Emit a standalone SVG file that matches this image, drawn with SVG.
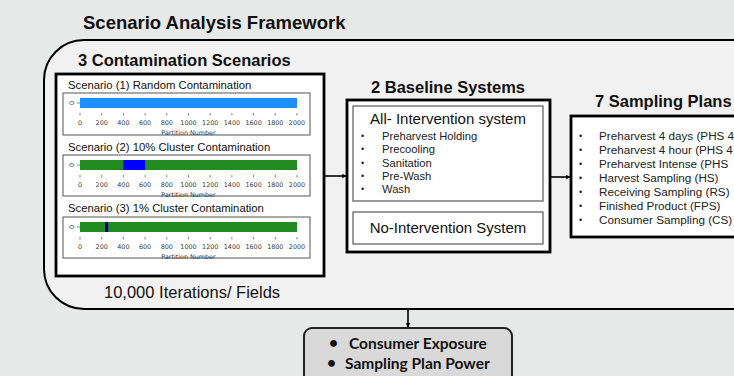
<svg xmlns="http://www.w3.org/2000/svg" width="734" height="376" viewBox="0 0 734 376">
  <defs>
    <marker id="arrow" viewBox="0 0 10 10" refX="9" refY="5" markerWidth="5" markerHeight="5" orient="auto" markerUnits="userSpaceOnUse">
      <path d="M0,0 L10,5 L0,10 Z" fill="#000"/>
    </marker>
    <style>
      .sans { font-family: "Liberation Sans", Arial, sans-serif; fill: #111; }
      .bold { font-weight: bold; }
      .h1 { font-size: 18.5px; }
      .h2 { font-size: 16.5px; }
      .sys { font-size: 15px; }
      .lbl { font-size: 11.3px; }
      .item { font-size: 11.2px; fill: #222; }
      .plan { font-size: 11.7px; fill: #222; }
      .dot { font-size: 9px; }
      .mpl { font-family: "DejaVu Sans", sans-serif; font-size: 6.4px; fill: #3a3a3a; }
      .frame { fill: #fff; stroke: #000; stroke-width: 2.8; }
      .inner { fill: #fff; stroke: #666; stroke-width: 1.3; }
      .plot { fill: #fff; stroke: #555; stroke-width: 1; }
      .tick { stroke: #333; stroke-width: 0.6; }
      .conn { stroke: #000; stroke-width: 1.6; fill: none; marker-end: url(#arrow); }
      .out { font-family: Lato, "Open Sans", sans-serif; font-weight: bold; font-size: 15.5px; fill: #111; }
    </style>
    <!-- shared x axis for the partition plots: 0..2000 over x 80..297 -->
    <g id="axis">
      <line class="tick" x1="77" y1="0" x2="80" y2="0"/>
      <text class="mpl" transform="translate(72,0) rotate(-90)" text-anchor="middle" dy="2">0</text>
      <g class="tick">
        <line x1="80" y1="10" x2="80" y2="12.5"/><line x1="101.7" y1="10" x2="101.7" y2="12.5"/>
        <line x1="123.4" y1="10" x2="123.4" y2="12.5"/><line x1="145.1" y1="10" x2="145.1" y2="12.5"/>
        <line x1="166.8" y1="10" x2="166.8" y2="12.5"/><line x1="188.5" y1="10" x2="188.5" y2="12.5"/>
        <line x1="210.2" y1="10" x2="210.2" y2="12.5"/><line x1="231.9" y1="10" x2="231.9" y2="12.5"/>
        <line x1="253.6" y1="10" x2="253.6" y2="12.5"/><line x1="275.3" y1="10" x2="275.3" y2="12.5"/>
        <line x1="297" y1="10" x2="297" y2="12.5"/>
      </g>
      <g class="mpl" text-anchor="middle">
        <text x="80" y="21.5">0</text><text x="101.7" y="21.5">200</text>
        <text x="123.4" y="21.5">400</text><text x="145.1" y="21.5">600</text>
        <text x="166.8" y="21.5">800</text><text x="188.5" y="21.5">1000</text>
        <text x="210.2" y="21.5">1200</text><text x="231.9" y="21.5">1400</text>
        <text x="253.6" y="21.5">1600</text><text x="275.3" y="21.5">1800</text>
        <text x="297" y="21.5">2000</text>
        <text x="188.5" y="31.5" fill="#3a3a3a">Partition Number</text>
      </g>
    </g>
  </defs>

  <!-- page background -->
  <rect x="0" y="0" width="734" height="376" fill="#e7e9e8"/>

  <text class="sans bold h1" x="83" y="29">Scenario Analysis Framework</text>

  <!-- framework container, running off the right edge -->
  <g id="framework">
    <rect x="44" y="40" width="760" height="269" rx="40" ry="40" fill="#f1f1f1" stroke="#000" stroke-width="2"/>
    <text class="sans" x="104" y="298" font-size="16.5">10,000 Iterations/ Fields</text>
  </g>

  <!-- contamination scenarios -->
  <g id="scenarios">
    <text class="sans bold h2" x="78" y="66">3 Contamination Scenarios</text>
    <rect class="frame" x="56" y="74" width="268" height="202"/>

    <g id="scenario1">
      <text class="sans lbl" x="68" y="89">Scenario (1) Random Contamination</text>
      <rect class="plot" x="63" y="93" width="247" height="42"/>
      <rect x="80" y="98" width="217" height="10" fill="#1e90ff"/>
      <use href="#axis" transform="translate(0,103)"/>
    </g>

    <g id="scenario2">
      <text class="sans lbl" x="68" y="151">Scenario (2) 10% Cluster Contamination</text>
      <rect class="plot" x="63" y="155" width="247" height="41"/>
      <rect x="80" y="160" width="217" height="10" fill="#228b22"/>
      <rect x="123.4" y="160" width="21.7" height="10" fill="#0000ff"/>
      <use href="#axis" transform="translate(0,165)"/>
    </g>

    <g id="scenario3">
      <text class="sans lbl" x="68" y="212">Scenario (3) 1% Cluster Contamination</text>
      <rect class="plot" x="63" y="217" width="247" height="41"/>
      <rect x="80" y="222" width="217" height="10" fill="#228b22"/>
      <rect x="105" y="222" width="3.2" height="10" fill="#00008b"/>
      <use href="#axis" transform="translate(0,227)"/>
    </g>
  </g>

  <!-- baseline systems -->
  <g id="baselines">
    <text class="sans bold h2" x="448" y="93" text-anchor="middle">2 Baseline Systems</text>
    <rect class="frame" x="347" y="100" width="203" height="152"/>
    <g id="all-intervention">
      <rect class="inner" x="353" y="106" width="190" height="95"/>
      <text class="sans sys" x="448" y="124" text-anchor="middle">All- Intervention system</text>
      <g class="sans item">
        <text class="dot" x="361" y="139">•</text><text x="382" y="140">Preharvest Holding</text>
        <text class="dot" x="361" y="152.3">•</text><text x="382" y="153.3">Precooling</text>
        <text class="dot" x="361" y="165.6">•</text><text x="382" y="166.6">Sanitation</text>
        <text class="dot" x="361" y="179">•</text><text x="382" y="180">Pre-Wash</text>
        <text class="dot" x="361" y="192.3">•</text><text x="382" y="193.3">Wash</text>
      </g>
    </g>
    <g id="no-intervention">
      <rect class="inner" x="353" y="212" width="190" height="32"/>
      <text class="sans sys" x="448" y="233" text-anchor="middle">No-Intervention System</text>
    </g>
  </g>

  <!-- sampling plans, running off the right edge -->
  <g id="sampling">
    <text class="sans bold h2" x="595" y="107">7 Sampling Plans</text>
    <rect class="frame" x="571" y="116" width="200" height="121"/>
    <g class="sans plan">
      <text class="dot" x="579" y="139">•</text><text x="599" y="140">Preharvest 4 days (PHS 4</text>
      <text class="dot" x="579" y="153">•</text><text x="599" y="154">Preharvest 4 hour (PHS 4</text>
      <text class="dot" x="579" y="167">•</text><text x="599" y="168">Preharvest Intense (PHS</text>
      <text class="dot" x="579" y="181">•</text><text x="599" y="182">Harvest Sampling (HS)</text>
      <text class="dot" x="579" y="195">•</text><text x="599" y="196">Receiving Sampling (RS)</text>
      <text class="dot" x="579" y="209">•</text><text x="599" y="210">Finished Product (FPS)</text>
      <text class="dot" x="579" y="223">•</text><text x="599" y="224">Consumer Sampling (CS)</text>
    </g>
  </g>

  <!-- outputs -->
  <g id="outputs">
    <rect x="304" y="328" width="208" height="60" rx="8" ry="8" fill="#d9d9d9" stroke="#222" stroke-width="2"/>
    <text class="out" x="329" y="348" font-size="11">•</text><text class="out" x="349" y="349">Consumer Exposure</text>
    <text class="out" x="327" y="368" font-size="11">•</text><text class="out" x="345" y="369">Sampling Plan Power</text>
  </g>

  <g id="connectors">
    <line class="conn" x1="325" y1="176" x2="346" y2="176"/>
    <line class="conn" x1="551" y1="177" x2="570" y2="177"/>
    <line class="conn" x1="408" y1="310" x2="408" y2="327"/>
  </g>
</svg>
